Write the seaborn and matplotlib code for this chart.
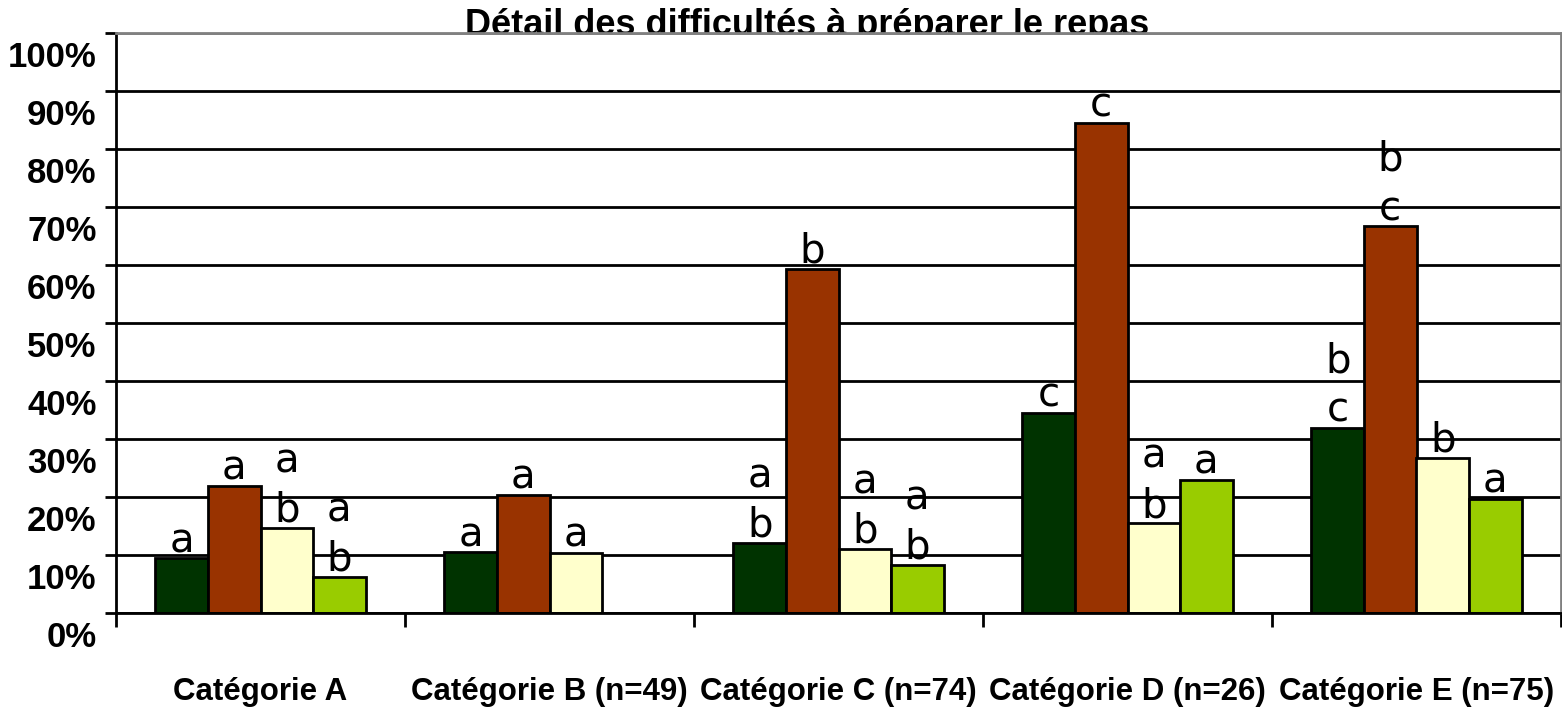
import matplotlib
matplotlib.use('Agg')
import matplotlib.pyplot as plt
import matplotlib.transforms as mtransforms
import numpy as np
import pandas as pd
import seaborn as sns

# Data
categories = ['Catégorie A', 'Catégorie B (n=49)', 'Catégorie C (n=74)',
              'Catégorie D (n=26)', 'Catégorie E (n=75)']
series = ['Série 1', 'Série 2', 'Série 3', 'Série 4']
serie1 = [9.4, 10.4, 12.0, 34.5, 31.9]
serie2 = [21.9, 20.3, 59.3, 84.5, 66.7]
serie3 = [14.6, 10.3, 11.0, 15.4, 26.7]
serie4 = [6.2, np.nan, 8.2, 22.9, 19.6]
letters1 = ['a', 'a', 'a\nb', 'c', 'b\nc']
letters2 = ['a', 'a', 'b', 'c', 'b\nc']
letters3 = ['a\nb', 'a', 'a\nb', 'a\nb', 'b']
letters4 = ['a\nb', '', 'a\nb', 'a', 'a']
colors = ['#003300', '#993300', '#FFFFCC', '#99CC00']
title = 'Détail des difficultés à préparer le repas'

values = [serie1, serie2, serie3, serie4]
letters = [letters1, letters2, letters3, letters4]

df = pd.DataFrame({
    'categorie': categories * 4,
    'serie': np.repeat(series, len(categories)),
    'valeur': np.concatenate(values),
})

fig = plt.figure(figsize=(15.62, 7.13), dpi=100, facecolor='white')
ax = fig.add_axes([116 / 1562, 1 - 612.7 / 713, 1445 / 1562, (612.7 - 33.3) / 713])
ax.set_facecolor('white')

sns.barplot(data=df, x='categorie', y='valeur', hue='serie', order=categories,
            hue_order=series, palette=colors, width=0.727, gap=0,
            edgecolor='black', linewidth=2, saturation=1, legend=False, ax=ax)

# letters above bars
for j, cont in enumerate(ax.containers):
    for bar in cont:
        h = bar.get_height()
        if np.isnan(h):
            continue
        cx = bar.get_x() + bar.get_width() / 2
        i = int(round(cx))
        txt = letters[j][i]
        if txt:
            ax.annotate(txt, (cx, h), xytext=(0, -2), textcoords='offset points',
                        ha='center', va='bottom', fontsize=29, linespacing=1.3,
                        family='DejaVu Sans', color='black')

ax.set_ylim(0, 100)
ax.set_xlim(-0.5, len(categories) - 0.5)
yt = list(range(0, 101, 10))
ax.set_yticks(yt, labels=[f'{v}%' for v in yt])
ax.yaxis.grid(True, color='black', linewidth=2)
ax.yaxis.get_gridlines()[-1].set_color('#808080')
ax.set_axisbelow(True)
ax.tick_params(axis='y', length=8, width=2, pad=6, labelsize=25)
for lab in ax.get_yticklabels():
    lab.set_fontweight('bold')
    lab.set_family('Liberation Sans')
    lab.set_transform(lab.get_transform() +
                      mtransforms.ScaledTranslation(0, -0.21, fig.dpi_scale_trans))

ax.set_xticks(np.arange(-0.5, len(categories), 1.0), labels=[''] * (len(categories) + 1))
ax.set_xticks(range(len(categories)), labels=categories, minor=True)
ax.tick_params(axis='x', which='major', length=10, width=2, direction='out')
ax.tick_params(axis='x', which='minor', length=0, pad=46, labelsize=22.5)
for lab in ax.get_xticklabels(minor=True):
    lab.set_fontweight('bold')
    lab.set_family('Liberation Sans')

ax.set_xlabel('')
ax.set_ylabel('')
for side in ['left', 'bottom']:
    ax.spines[side].set_color('black')
    ax.spines[side].set_linewidth(2)
for side in ['top', 'right']:
    ax.spines[side].set_color('#808080')
    ax.spines[side].set_linewidth(2)

fig.text(807 / 1562, 1 - 35 / 713, title, ha='center', va='baseline',
         fontsize=26, fontweight='bold', family='Liberation Sans', zorder=-1)

fig.savefig('out.png', dpi=100, facecolor='white')
